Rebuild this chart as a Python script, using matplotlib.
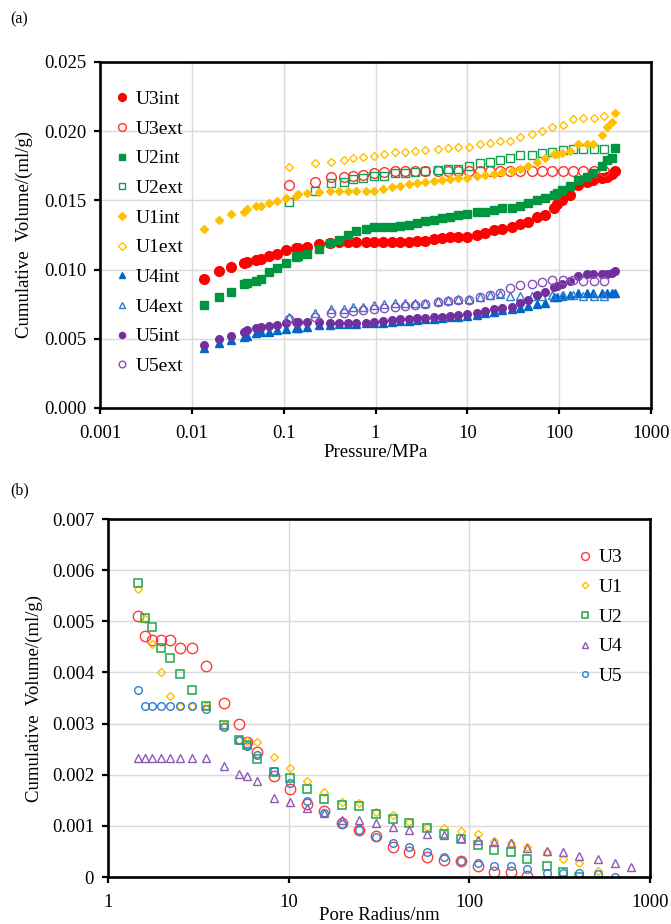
import matplotlib
matplotlib.use("Agg")
import matplotlib.pyplot as plt
from matplotlib.ticker import FixedLocator, FixedFormatter

plt.rcParams['font.family'] = ['Liberation Serif', 'DejaVu Serif']

# ---- (a) intrusion / extrusion, pressure in MPa ----
p_int = [0.0136, 0.020, 0.027, 0.037, 0.040, 0.050, 0.056, 0.070, 0.085, 0.106,
         0.136, 0.145, 0.18, 0.245, 0.32, 0.40, 0.50, 0.62, 0.78, 0.97,
         1.2, 1.5, 1.85, 2.3, 2.85, 3.5, 4.3, 5.3, 6.5, 8.0,
         9.9, 12.7, 15.6, 19.3, 23.8, 30.5, 37.6, 46, 57, 70,
         87, 94, 107, 132, 162, 200, 236, 292, 331, 375, 410]
p_ext = [0.115, 0.22, 0.33, 0.45, 0.575, 0.74, 0.97, 1.25, 1.63, 2.1,
         2.7, 3.47, 4.84, 6.2, 8.0, 10.3, 13.8, 17.7, 22.8, 29.2,
         37.6, 50.4, 64.7, 83, 110, 141, 184, 237, 304]

U3int = [0.0093, 0.0099, 0.0102, 0.0105, 0.01057, 0.0107, 0.0108, 0.0110, 0.0111, 0.0114,
         0.01154, 0.01158, 0.01166, 0.01185, 0.0119, 0.0120, 0.0120, 0.0120, 0.0120, 0.0120,
         0.0120, 0.0120, 0.0120, 0.0120, 0.0121, 0.0121, 0.0122, 0.01226, 0.01233, 0.01233,
         0.01238, 0.0125, 0.01262, 0.01286, 0.01291, 0.0131, 0.0133, 0.01346, 0.01378, 0.01395,
         0.01443, 0.01474, 0.01503, 0.01539, 0.01611, 0.01635, 0.01647, 0.0166, 0.01671, 0.0169, 0.01715]
U2int = [0.00744, 0.00804, 0.0084, 0.00893, 0.00905, 0.00918, 0.0093, 0.00985, 0.0101, 0.0105,
         0.01089, 0.0110, 0.01113, 0.0115, 0.0119, 0.01212, 0.01247, 0.01277, 0.0129, 0.01305,
         0.01305, 0.01305, 0.01315, 0.01322, 0.01339, 0.01353, 0.01355, 0.0137, 0.01382, 0.01395,
         0.01402, 0.01414, 0.01418, 0.0143, 0.01443, 0.01443, 0.0146, 0.01479, 0.01503, 0.01515,
         0.01539, 0.01556, 0.01575, 0.01604, 0.01647, 0.01671, 0.017, 0.01749, 0.01792, 0.01804, 0.01876]
U1int = [0.01293, 0.01358, 0.01402, 0.01418, 0.0144, 0.0146, 0.0146, 0.01479, 0.01496, 0.0152,
         0.01532, 0.01545, 0.0155, 0.01558, 0.0157, 0.0157, 0.0157, 0.0157, 0.0157, 0.0157,
         0.0158, 0.01595, 0.01604, 0.01616, 0.01624, 0.01633, 0.0164, 0.01647, 0.01655, 0.0166,
         0.01664, 0.01676, 0.01684, 0.0169, 0.01707, 0.01715, 0.01728, 0.01752, 0.0178, 0.01806,
         0.01835, 0.01835, 0.0184, 0.01857, 0.01905, 0.01905, 0.0191, 0.01972, 0.02028, 0.02069, 0.0213]
U4int = [0.00431, 0.00472, 0.00491, 0.00515, 0.00522, 0.0054, 0.00547, 0.00551, 0.00564, 0.00571,
         0.00576, 0.0058, 0.00587, 0.006, 0.006, 0.00605, 0.00608, 0.0061, 0.00612, 0.00615,
         0.00617, 0.0062, 0.00625, 0.0063, 0.00635, 0.0064, 0.00645, 0.0065, 0.00655, 0.0066,
         0.00667, 0.00675, 0.00685, 0.00695, 0.00705, 0.00715, 0.0072, 0.00737, 0.00751, 0.00756,
         0.00804, 0.00804, 0.00808, 0.00817, 0.00833, 0.00833, 0.00833, 0.00833, 0.00833, 0.00833, 0.00833]
U5int = [0.00455, 0.00496, 0.00522, 0.00551, 0.00561, 0.00576, 0.00583, 0.00592, 0.006, 0.00612,
         0.00624, 0.00624, 0.00619, 0.00624, 0.00617, 0.00617, 0.00617, 0.00617, 0.00617, 0.00624,
         0.00631, 0.00633, 0.00641, 0.00645, 0.00648, 0.00652, 0.00655, 0.0066, 0.00665, 0.00672,
         0.00679, 0.00689, 0.00703, 0.00713, 0.0072, 0.00732, 0.00756, 0.0078, 0.00817, 0.00836,
         0.00872, 0.00885, 0.00896, 0.00918, 0.00956, 0.00968, 0.00968, 0.00968, 0.00968, 0.00978, 0.00992]

U3ext = [0.01611, 0.01631, 0.01667, 0.01671, 0.01676, 0.01684, 0.01696, 0.01707, 0.0171, 0.01712,
         0.01715, 0.01715, 0.01715, 0.01715, 0.01715, 0.01715, 0.01715, 0.01715, 0.01715, 0.01715,
         0.01715, 0.01715, 0.01715, 0.01715, 0.01715, 0.01715, 0.01715, 0.01715, 0.01715]
U2ext = [0.01486, 0.0157, 0.01624, 0.01631, 0.01655, 0.01664, 0.01678, 0.01678, 0.01696, 0.017,
         0.01707, 0.01712, 0.0172, 0.01724, 0.01724, 0.01749, 0.01768, 0.0178, 0.01792, 0.01804,
         0.01825, 0.01828, 0.0184, 0.01852, 0.01864, 0.01871, 0.01871, 0.01871, 0.01871]
U1ext = [0.01739, 0.01768, 0.0178, 0.01792, 0.01804, 0.01816, 0.01823, 0.01835, 0.01852, 0.01852,
         0.01859, 0.01862, 0.01869, 0.01876, 0.01883, 0.01883, 0.01905, 0.01917, 0.01931, 0.01931,
         0.01956, 0.0198, 0.02001, 0.02028, 0.02045, 0.02086, 0.02093, 0.02093, 0.0211]
U4ext = [0.0066, 0.00684, 0.00713, 0.00713, 0.00728, 0.00732, 0.00744, 0.00752, 0.00756, 0.00756,
         0.00756, 0.00758, 0.00773, 0.0078, 0.00785, 0.00785, 0.008, 0.00817, 0.00824, 0.00812,
         0.00812, 0.00812, 0.00812, 0.00815, 0.00815, 0.00815, 0.00812, 0.00812, 0.00812]
U5ext = [0.00641, 0.0066, 0.00684, 0.00684, 0.00703, 0.00708, 0.00713, 0.0072, 0.00732, 0.00737,
         0.00744, 0.00752, 0.00768, 0.00775, 0.0078, 0.0078, 0.00804, 0.00817, 0.00833, 0.00865,
         0.00889, 0.00896, 0.00913, 0.00925, 0.00925, 0.00925, 0.0092, 0.0092, 0.0092]

# ---- (b) pore radius distribution, nm ----
radius = [1.46, 1.60, 1.76, 1.96, 2.2, 2.5, 2.9, 3.5, 4.4, 5.3,
          5.9, 6.65, 8.3, 10.2, 12.7, 15.7, 19.7, 24.6, 30.4, 37.6,
          46.5, 58, 72, 90, 111, 137, 169, 209, 268, 331,
          406, 513, 640, 784]
U3 = [0.00511, 0.00472, 0.00464, 0.00464, 0.00464, 0.00448, 0.00448, 0.00413, 0.00341, 0.00299,
      0.00263, 0.00245, 0.00198, 0.00172, 0.00143, 0.00129, 0.00105, 0.00092, 0.0008, 0.00058,
      0.00048, 0.0004, 0.00034, 0.00032, 0.00022, 0.0001, 0.0001, 0.00002]
U1 = [0.00563, 0.00505, 0.00456, 0.004, 0.00354, 0.00335, 0.00335, 0.00335, 0.00297, 0.00268,
      0.00265, 0.00263, 0.00235, 0.00213, 0.00187, 0.00166, 0.00147, 0.00145, 0.00128, 0.00121,
      0.00108, 0.00097, 0.00095, 0.00089, 0.00084, 0.0007, 0.00066, 0.00058, 0.00048, 0.00035,
      0.00028, 0.00012]
U2 = [0.00575, 0.00507, 0.00489, 0.00448, 0.00428, 0.00397, 0.00365, 0.00335, 0.00298, 0.00267,
      0.00258, 0.00231, 0.00205, 0.00193, 0.00172, 0.00152, 0.0014, 0.00138, 0.00123, 0.00113,
      0.00106, 0.00095, 0.00085, 0.00074, 0.00063, 0.00053, 0.00048, 0.00035, 0.00022, 0.00009,
      0.0]
U4 = [0.00233, 0.00233, 0.00233, 0.00233, 0.00233, 0.00233, 0.00233, 0.00233, 0.00217, 0.00201,
      0.00198, 0.00188, 0.00155, 0.00147, 0.00134, 0.00126, 0.00112, 0.00112, 0.00105, 0.00098,
      0.00091, 0.00084, 0.00083, 0.00076, 0.00072, 0.00068, 0.00066, 0.00056, 0.00051, 0.00048,
      0.00042, 0.00035, 0.00028, 0.0002]
U5 = [0.00365, 0.00334, 0.00334, 0.00334, 0.00334, 0.00334, 0.00334, 0.00328, 0.00294, 0.00267,
      0.00257, 0.00238, 0.00208, 0.00184, 0.00148, 0.00126, 0.00104, 0.00092, 0.00079, 0.00067,
      0.00059, 0.00049, 0.0004, 0.00032, 0.00027, 0.00022, 0.00022, 0.00016, 0.00008, 0.00008,
      0.00008, 0.00005, 0.0]

RED = '#FF0000'
GREEN = '#009640'
GOLD = '#FFC000'
BLUE = '#0066CC'
PURPLE = '#7030A0'

fig = plt.figure(figsize=(6.71, 9.24), dpi=100)


def style_axes(ax):
    for s in ax.spines.values():
        s.set_linewidth(1.9)
        s.set_color('black')
    ax.grid(True, which='major', color='#D9D9D9', linewidth=1.0)
    ax.set_axisbelow(True)
    ax.minorticks_off()
    ax.tick_params(axis='both', which='major', direction='out', length=4,
                   width=1.6, labelsize=13.5, pad=6)
    ax.tick_params(axis='x', pad=8)


# panel (a)
ax1 = fig.add_axes([100/671, 1-408/924, 551/671, 346/924])
ax1.set_xscale('log')
ax1.set_xlim(0.001, 1000)
ax1.set_ylim(0, 0.025)
ax1.plot(p_int, U3int, 'o', color=RED, ms=7, mec=RED, label='U3int')
ax1.plot(p_ext, U3ext, 'o', mfc='none', mec='#FF3030', ms=7, mew=1.0, label='U3ext')
ax1.plot(p_int, U2int, 's', color=GREEN, ms=5.5, label='U2int')
ax1.plot(p_ext, U2ext, 's', mfc='none', mec='#10A050', ms=5.5, mew=1.0, label='U2ext')
ax1.plot(p_int, U1int, 'D', color=GOLD, ms=4.5, label='U1int')
ax1.plot(p_ext, U1ext, 'D', mfc='none', mec=GOLD, ms=4.5, mew=1.0, label='U1ext')
ax1.plot(p_int, U4int, '^', color=BLUE, ms=5.5, label='U4int')
ax1.plot(p_ext, U4ext, '^', mfc='none', mec='#2A7FD0', ms=5.5, mew=1.0, label='U4ext')
ax1.plot(p_int, U5int, 'o', color=PURPLE, ms=5.5, label='U5int')
ax1.plot(p_ext, U5ext, 'o', mfc='none', mec='#8A4FB8', ms=6, mew=1.0, label='U5ext')
ax1.xaxis.set_major_locator(FixedLocator([0.001, 0.01, 0.1, 1, 10, 100, 1000]))
ax1.xaxis.set_major_formatter(FixedFormatter(['0.001', '0.01', '0.1', '1', '10', '100', '1000']))
ax1.set_yticks([0, 0.005, 0.01, 0.015, 0.02, 0.025])
ax1.set_yticklabels(['0.000', '0.005', '0.010', '0.015', '0.020', '0.025'])
style_axes(ax1)
ax1.set_xlabel('Pressure/MPa', fontsize=13.5)
ax1.xaxis.set_label_coords(0.5, -0.103)
ax1.set_ylabel('Cumulative  Volume/(ml/g)', fontsize=13.5)
ax1.yaxis.set_label_coords(-0.122, 0.5)
ax1.legend(loc='upper left', bbox_to_anchor=(0.0, 0.957), frameon=False,
           fontsize=14, handlelength=0.9, handletextpad=0.25, labelspacing=0.62,
           markerscale=0.8, borderaxespad=0.3)
fig.text(10/671, 1-19/924, '(a)', fontsize=11.5, va='center')

# panel (b)
ax2 = fig.add_axes([108/671, 1-877/924, 542/671, 358/924])
ax2.set_xscale('log')
ax2.set_xlim(1, 1000)
ax2.set_ylim(0, 0.007)
ax2.plot(radius[:len(U3)], U3, 'o', mfc='none', mec='#FF3B3B', ms=7.5, mew=1.0, label='U3')
ax2.plot(radius[:len(U1)], U1, 'D', mfc='none', mec=GOLD, ms=4.5, mew=1.0, label='U1')
ax2.plot(radius[:len(U2)], U2, 's', mfc='none', mec='#1FA64A', ms=6, mew=1.1, label='U2')
ax2.plot(radius[:len(U4)], U4, '^', mfc='none', mec='#8E5BB5', ms=6, mew=1.0, label='U4')
ax2.plot(radius[:len(U5)], U5, 'o', mfc='none', mec='#2F80D0', ms=5.5, mew=1.0, label='U5')
ax2.xaxis.set_major_locator(FixedLocator([1, 10, 100, 1000]))
ax2.xaxis.set_major_formatter(FixedFormatter(['1', '10', '100', '1000']))
ax2.set_yticks([0, 0.001, 0.002, 0.003, 0.004, 0.005, 0.006, 0.007])
ax2.set_yticklabels(['0', '0.001', '0.002', '0.003', '0.004', '0.005', '0.006', '0.007'])
style_axes(ax2)
ax2.set_xlabel('Pore Radius/nm', fontsize=13.5)
ax2.xaxis.set_label_coords(0.5, -0.085)
ax2.set_ylabel('Cumulative  Volume/(ml/g)', fontsize=13.5)
ax2.yaxis.set_label_coords(-0.12, 0.5)
ax2.legend(loc='upper right', bbox_to_anchor=(0.975, 0.955), frameon=False,
           fontsize=14, handlelength=0.9, handletextpad=0.25, labelspacing=0.62,
           markerscale=0.75, borderaxespad=0.3)
fig.text(10/671, 1-490/924, '(b)', fontsize=11.5, va='center')

fig.savefig('out.png', dpi=100)
